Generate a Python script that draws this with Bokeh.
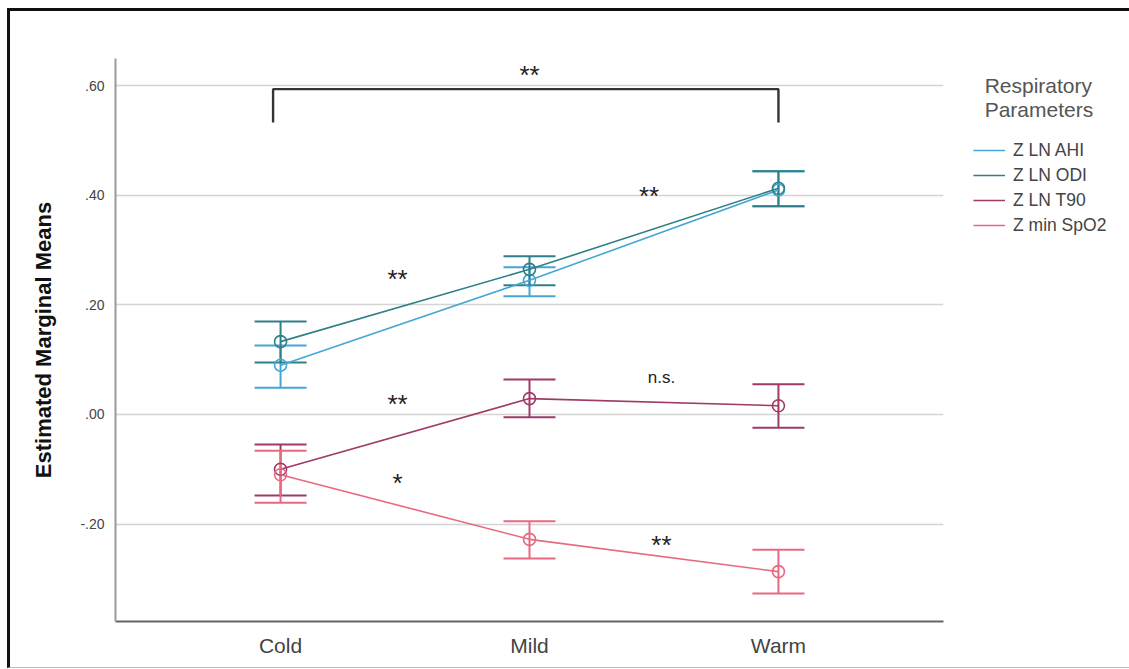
from bokeh.plotting import figure
from bokeh.models import (ColumnDataSource, Whisker, TeeHead, FixedTicker,
                          Legend, LegendItem, Range1d)
from bokeh.embed import file_html
from bokeh.resources import INLINE

# ---- data ----
conditions = ["Cold", "Mild", "Warm"]
series_names = ["Z LN AHI", "Z LN ODI", "Z LN T90", "Z min SpO2"]
series_colors = ["#45a6d6", "#2e7f88", "#9e3a68", "#e86a7f"]

ahi_mean = [0.090, 0.245, 0.410]
ahi_lo = [0.049, 0.216, 0.380]
ahi_hi = [0.126, 0.269, 0.444]

odi_mean = [0.133, 0.265, 0.413]
odi_lo = [0.095, 0.236, 0.380]
odi_hi = [0.170, 0.289, 0.444]

t90_mean = [-0.100, 0.029, 0.016]
t90_lo = [-0.148, -0.005, -0.024]
t90_hi = [-0.055, 0.064, 0.055]

spo2_mean = [-0.110, -0.228, -0.287]
spo2_lo = [-0.161, -0.263, -0.327]
spo2_hi = [-0.066, -0.195, -0.247]

y_ticks = [-0.2, 0.0, 0.2, 0.4, 0.6]
y_tick_labels = ["-.20", ".00", ".20", ".40", ".60"]

# significance annotations: (x position, y value, text)
sig_x = [1.0, 0.47, 1.48, 0.47, 0.47, 1.53, 1.53]
sig_y = [0.619, 0.248, 0.399, 0.019, -0.126, 0.067, -0.238]
sig_text = ["**", "**", "**", "**", "*", "n.s.", "**"]
sig_size = ["26px", "26px", "26px", "26px", "26px", "17px", "26px"]

bracket_x = [-0.03, 2.0]
bracket_top = 0.594
bracket_bottom = 0.533

# ---- figure ----
p = figure(frame_width=828, frame_height=563, output_backend="svg", toolbar_location=None,
           x_range=Range1d(-0.663, 2.663), y_range=Range1d(-0.378, 0.650),
           min_border_left=105, min_border_right=183, min_border_top=47,
           min_border_bottom=46)
p.outline_line_color = None
p.border_fill_color = "white"
p.background_fill_color = "white"
p.styles = {"margin": "8px 0 0 7px",
            "border-left": "3px solid #111111", "border-top": "3px solid #111111",
            "border-right": "1px solid #bbbbbb", "border-bottom": "1px solid #bbbbbb"}

p.xgrid.visible = False
p.ygrid.grid_line_color = "#d4d4d4"
p.ygrid.grid_line_width = 1.5
p.ygrid.ticker = FixedTicker(ticks=y_ticks)

p.yaxis.ticker = FixedTicker(ticks=y_ticks)
p.yaxis.major_label_overrides = {t: l for t, l in zip(y_ticks, y_tick_labels)}
p.yaxis.axis_label = "Estimated Marginal Means"
p.yaxis.axis_label_text_font = "Liberation Sans"
p.yaxis.axis_label_text_font_style = "bold"
p.yaxis.axis_label_text_font_size = "22px"
p.yaxis.axis_label_text_color = "#111111"
p.yaxis.axis_label_standoff = 21
p.yaxis.major_label_text_font = "Liberation Sans"
p.yaxis.major_label_text_font_size = "14px"
p.yaxis.major_label_text_color = "#444444"
p.yaxis.major_label_standoff = 5
p.yaxis.major_tick_line_color = None
p.yaxis.minor_tick_line_color = None
p.yaxis.axis_line_color = "#9a9a9a"
p.yaxis.axis_line_width = 2

p.xaxis.ticker = FixedTicker(ticks=[0, 1, 2])
p.xaxis.major_label_overrides = {i: c for i, c in enumerate(conditions)}
p.xaxis.major_label_text_font = "Liberation Sans"
p.xaxis.major_label_text_font_size = "21px"
p.xaxis.major_label_text_color = "#444444"
p.xaxis.major_label_standoff = 6
p.xaxis.major_tick_line_color = None
p.xaxis.minor_tick_line_color = None
p.xaxis.axis_line_color = "#666666"
p.xaxis.axis_line_width = 2

xs = list(range(len(conditions)))
all_series = [
    (ahi_mean, ahi_lo, ahi_hi),
    (odi_mean, odi_lo, odi_hi),
    (t90_mean, t90_lo, t90_hi),
    (spo2_mean, spo2_lo, spo2_hi),
]

legend_items = []
for name, color, (m, lo, hi) in zip(series_names, series_colors, all_series):
    src = ColumnDataSource(dict(x=xs, m=m, lo=lo, hi=hi))
    ln = p.line("x", "m", source=src, line_color=color, line_width=1.6)
    w = Whisker(base="x", lower="lo", upper="hi", source=src, dimension="height",
                line_color=color, line_width=2,
                upper_head=TeeHead(size=52, line_color=color, line_width=2),
                lower_head=TeeHead(size=52, line_color=color, line_width=2))
    p.add_layout(w)
    p.scatter("x", "m", source=src, marker="circle", size=12, fill_color=None,
              line_color=color, line_width=1.6)
    legend_items.append(LegendItem(label=name, renderers=[ln]))

# bracket
bsrc = ColumnDataSource(dict(
    x=[bracket_x[0], bracket_x[0], bracket_x[1], bracket_x[1]],
    y=[bracket_bottom, bracket_top, bracket_top, bracket_bottom]))
p.line("x", "y", source=bsrc, line_color="#333333", line_width=2.4)

# significance labels
ssrc = ColumnDataSource(dict(x=sig_x, y=sig_y, t=sig_text, s=sig_size))
p.text("x", "y", text="t", source=ssrc, text_align="center", text_baseline="middle",
       text_font_size="s", text_color="#222222")

# legend (in the right side panel)
legend = Legend(items=legend_items,
                title="\u00a0\u00a0Respiratory\n\u00a0\u00a0Parameters",
                location=(30, 385), background_fill_alpha=0, border_line_color=None,
                label_text_font="Liberation Sans", label_text_font_size="17.5px",
                label_text_color="#444444",
                title_text_font="Liberation Sans", title_text_font_size="21px",
                title_text_font_style="normal", title_text_color="#555555",
                title_text_line_height=1.0,
                glyph_width=32, glyph_height=22, label_height=22, spacing=3,
                label_standoff=8, padding=0, margin=0, title_standoff=17)
p.add_layout(legend, "right")

html = file_html(p, INLINE)
open("out.html", "w").write(html)
